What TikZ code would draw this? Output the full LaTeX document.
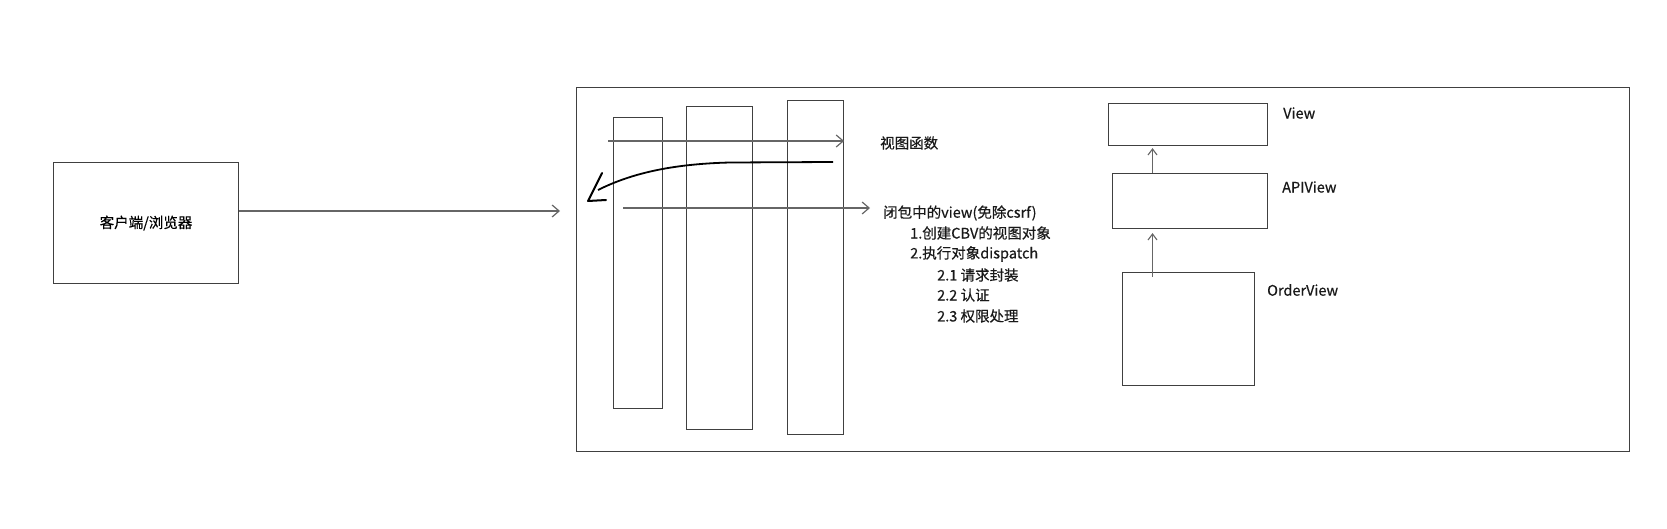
\documentclass[tikz,border=0pt]{standalone}
\usepackage{fontspec}
\setmainfont{Noto Sans CJK SC}
\newfontfamily\medfont{Noto Sans CJK SC}[FakeBold=0.5]
\usetikzlibrary{arrows.meta}
\begin{document}
\begin{tikzpicture}[x=1pt,y=-1pt,
  box/.style={draw=black!75, line width=1.1pt, rectangle, inner sep=0pt, anchor=north west},
  lbl/.style={font=\medfont\fontsize{14.5}{17}\selectfont, inner sep=0pt, anchor=west, text=black!90},
  arr/.style={draw=black!60, line width=1.4pt, -{Straight Barb[length=7pt,width=12pt,line width=1.2pt]}},
  varr/.style={draw=black!60, line width=1.2pt, -{Straight Barb[length=6pt,width=9pt,line width=1.1pt]}},
]
\useasboundingbox (0,0) rectangle (1667,529);
% boxes
\node[box, minimum width=185pt, minimum height=121pt, font=\medfont\fontsize{14.5}{17}\selectfont] (client) at (53,162) {客户端/浏览器};
\node[box, minimum width=1053pt, minimum height=364pt] (main) at (576,87) {};
\node[box, minimum width=49pt, minimum height=291pt] (col1) at (613,117) {};
\node[box, minimum width=66pt, minimum height=323pt] (col2) at (686,106) {};
\node[box, minimum width=56pt, minimum height=334pt] (col3) at (787,100) {};
\node[box, minimum width=159pt, minimum height=42pt] (view) at (1108,103) {};
\node[box, minimum width=155pt, minimum height=55pt] (apiview) at (1112,173) {};
\node[box, minimum width=132pt, minimum height=113pt] (orderview) at (1122,272) {};
% connectors
\coordinate (reqin) at (560,211);
\draw[arr] (client.east |- reqin) -- (reqin);
\coordinate (a1s) at (608,141);
\draw[arr] (a1s) -- (a1s -| col3.east);
\coordinate (cs) at (833,162);
\coordinate (ce) at (598,190);
\draw[black, line width=1.8pt] (cs) -- (730,162.5) .. controls (670,164) and (630,174) .. (ce);
\draw[black, line width=2pt, line join=round, line cap=round] (602,173) -- (588,201) -- (606,200);
\coordinate (a3s) at (623,208);
\coordinate (a3e) at (870,208);
\draw[arr] (a3s) -- (a3e);
\coordinate (vx) at (1152.5,0);
\draw[varr, shorten >=2pt] (apiview.north -| vx) -- (view.south -| vx);
\draw[varr, shorten <=-5pt, shorten >=4pt] (orderview.north -| vx) -- (apiview.south -| vx);
% labels
\node[lbl] (t0) at (880,143) {视图函数};
\node[lbl] (t1) at (883,213) {闭包中的view(免除csrf)};
\node[lbl] (t2) at (910,233) {1.创建CBV的视图对象};
\node[lbl] (t3) at (910,254) {2.执行对象dispatch};
\node[lbl] (t4) at (937,275) {2.1 请求封装};
\node[lbl] (t5) at (937,295) {2.2 认证};
\node[lbl] (t6) at (937,316) {2.3 权限处理};
\node[lbl] (lv) at (1283,113) {View};
\node[lbl] (la) at (1282,187) {APIView};
\node[lbl] (lo) at (1267,290) {OrderView};
\end{tikzpicture}
\end{document}
